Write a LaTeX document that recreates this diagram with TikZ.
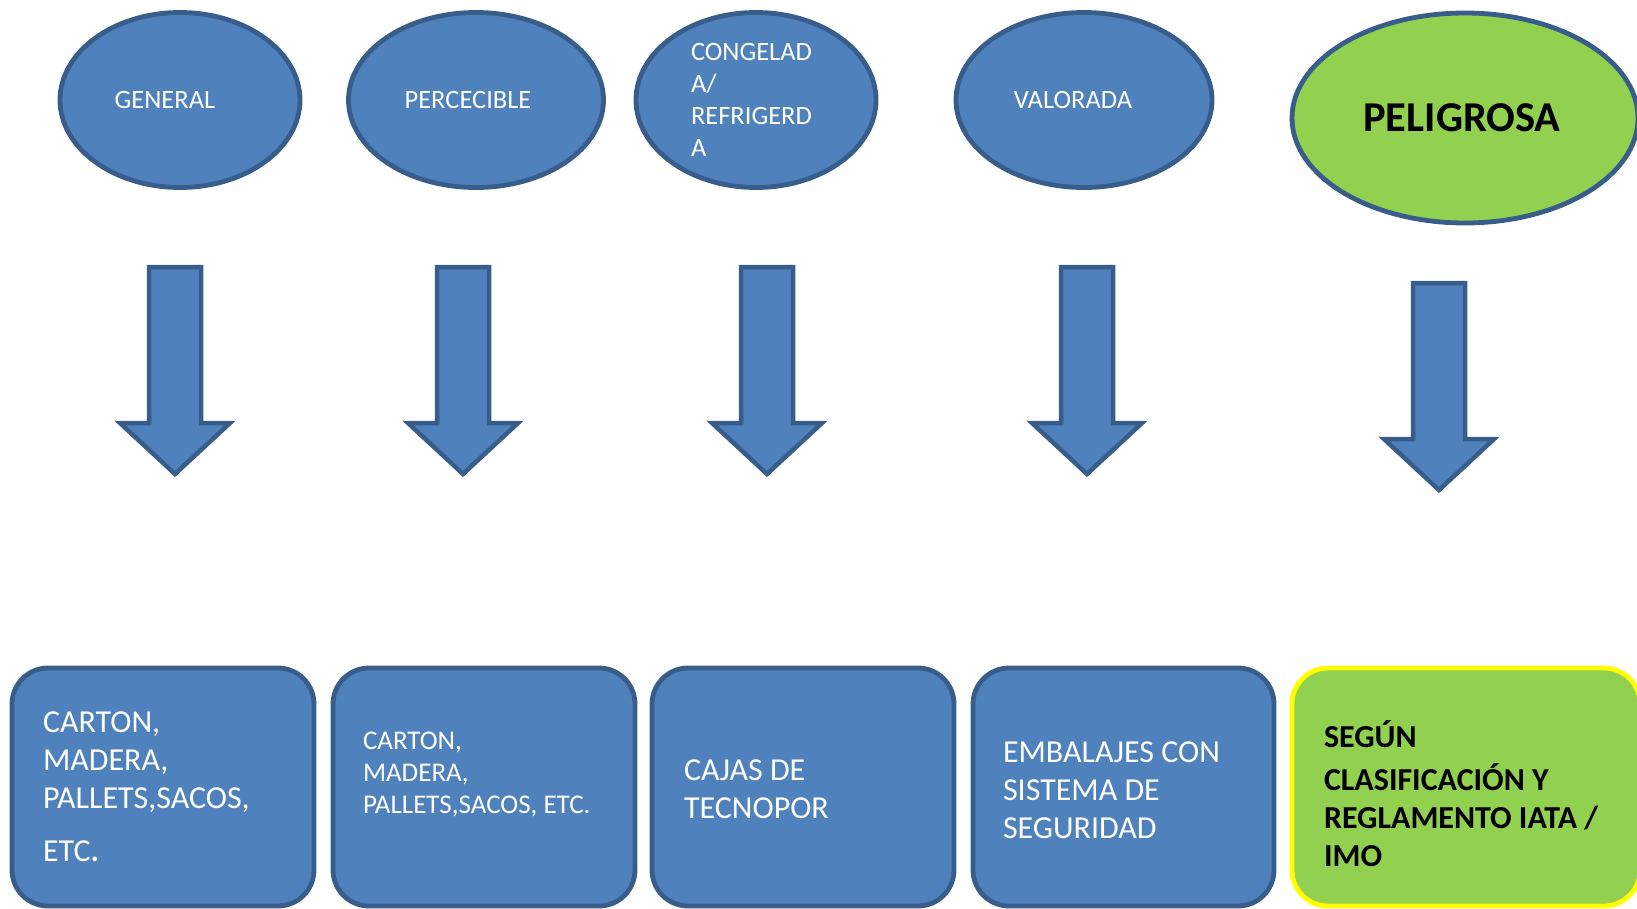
\documentclass[tikz,border=0pt]{standalone}
\usepackage{fontspec}
\setmainfont{Carlito}
\usepackage{xcolor}
\usetikzlibrary{shapes.geometric}
\definecolor{offblue}{HTML}{4F81BD}
\definecolor{offedge}{HTML}{385D8A}
\definecolor{offgreen}{HTML}{92D050}
\definecolor{offyellow}{HTML}{FFFF00}

\begin{document}
\begin{tikzpicture}[x=1pt,y=-1pt]
\tikzset{every node/.style={inner sep=0pt,outer sep=0pt}}
\tikzset{oval/.style={ellipse,draw=offedge,fill=offblue,line width=4.8pt}}
\tikzset{tile/.style={rectangle,rounded corners=36pt,draw=offedge,fill=offblue,line width=4.8pt}}
\tikzset{blockarrow/.style={draw=offedge,fill=offblue,line width=4.5pt}}
\tikzset{downarrow/.pic={\path[blockarrow] (-26,0) -- (26,0) -- (26,156) -- (55,156) -- (0,207) -- (-55,156) -- (-26,156) -- cycle;}}
\tikzset{ovaltext/.style={text=white,align=left,font=\fontsize{26.5}{32}\selectfont}}
\tikzset{tiletext/.style={anchor=west,text=white,align=left,font=\fontsize{32}{38}\selectfont}}

\clip (0,0) rectangle (1637,908);

% top row
\node[oval,minimum width=240pt,minimum height=175pt] (general) at (180,100) {};
\node[ovaltext] (generaltxt) at (165,100) {GENERAL};
\node[oval,minimum width=255pt,minimum height=175pt] (perecible) at (476,100) {};
\node[ovaltext] (perecibletxt) at (468,100) {PERCECIBLE};
\node[oval,minimum width=240pt,minimum height=175pt] (congelada) at (756,100) {};
\node[ovaltext,anchor=west] (congeladatxt) at (691,100) {CONGELAD\\A/\\REFRIGERD\\A};
\node[oval,minimum width=256pt,minimum height=175pt] (valorada) at (1084,100) {};
\node[ovaltext] (valoradatxt) at (1073,100) {VALORADA};
\node[oval,fill=offgreen,minimum width=346pt,minimum height=210pt] (peligrosa) at (1465,118) {};
\node[font=\fontsize{42.5}{48}\selectfont\bfseries] (peligrosatxt) at (1462,118) {PELIGROSA};

% arrows
\pic (arrgeneral) at (175,267) {downarrow};
\pic (arrperecible) at (463,267) {downarrow};
\pic (arrcongelada) at (767,267) {downarrow};
\pic (arrvalorada) at (1087,267) {downarrow};
\pic (arrpeligrosa) at (1439,283) {downarrow};

% bottom row
\node[tile,minimum width=302pt,minimum height=238pt] (embgeneral) at (163,787) {};
\node[tiletext] at (43,787) {CARTON,\\MADERA,\\PALLETS,SACOS,\\[15pt]ETC{\bfseries .}};
\node[tile,minimum width=302pt,minimum height=238pt] (embperecible) at (484,787) {};
\node[tiletext,font=\fontsize{27}{32}\selectfont] at (363,774) {CARTON,\\MADERA,\\PALLETS,SACOS, ETC.};
\node[tile,minimum width=302pt,minimum height=238pt] (embcongelada) at (803,787) {};
\node[tiletext] at (684,789) {CAJAS DE\\TECNOPOR};
\node[tile,minimum width=301pt,minimum height=238pt] (embvalorada) at (1123.5,787) {};
\node[tiletext] at (1003,790) {EMBALAJES CON\\SISTEMA DE\\SEGURIDAD};
\node[tile,fill=offgreen,draw=offyellow,minimum width=348pt,minimum height=238pt] (embpeligrosa) at (1466,787) {};
\node[tiletext,text=black,font=\fontsize{32}{38}\selectfont\bfseries] at (1324,794) {SEGÚN\\[5pt]CLASIFICACIÓN Y\\REGLAMENTO IATA /\\IMO};

\end{tikzpicture}
\end{document}
